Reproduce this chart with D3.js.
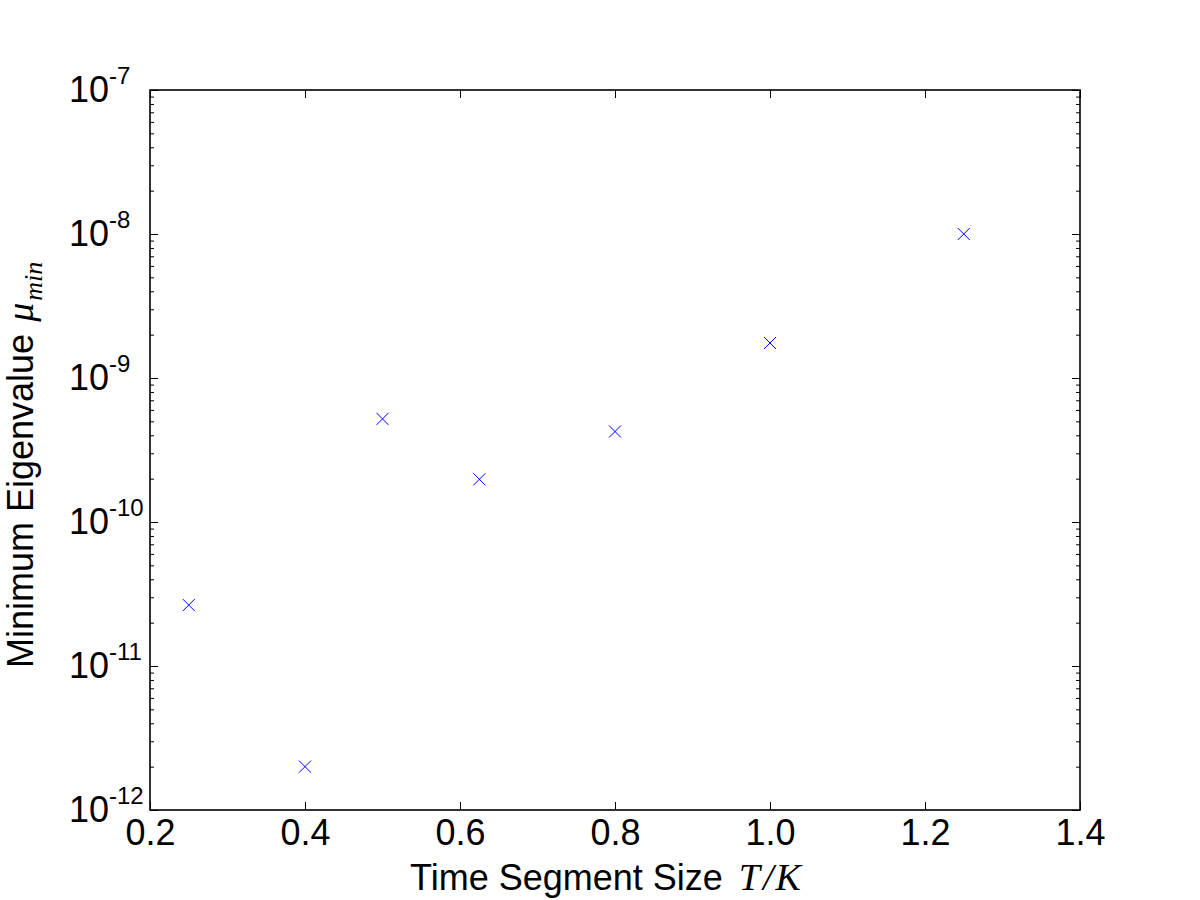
<!DOCTYPE html>
<html>
<head>
<meta charset="utf-8">
<script src="https://cdn.jsdelivr.net/npm/d3@7"></script>
<style>
  body { margin: 0; background: #fff; }
  svg { font-family: "Liberation Sans", Arial, sans-serif; }
</style>
</head>
<body>
<div id="chart"></div>
<script>
// data
var segmentSizes = [0.25, 0.4, 0.5, 0.625, 0.8, 1.0, 1.25]
var minEigenvalues = [2.65e-11, 2.0e-12, 5.2e-10, 1.98e-10, 4.25e-10, 1.75e-9, 1.0e-8]
var xTicks = [0.2, 0.4, 0.6, 0.8, 1.0, 1.2, 1.4]
var yExponents = [-12, -11, -10, -9, -8, -7]

var margin = {top: 90, right: 120, bottom: 90, left: 150}
var width = 1200 - margin.left - margin.right
var height = 900 - margin.top - margin.bottom

var svg = d3.select('#chart')
    .append('svg')
    .attr('width', 1200)
    .attr('height', 900)

var g = svg.append('g')
    .attr('transform', `translate(${margin.left}, ${margin.top})`)

var x = d3.scaleLinear().domain([0.2, 1.4]).range([0, width])
var y = d3.scaleLog().domain([1e-12, 1e-7]).range([height, 0])

// minor ticks for the log axis
var minorTicks = []
yExponents.slice(0, -1).forEach(e => {
    for (let m = 2; m <= 9; m++) minorTicks.push(m * Math.pow(10, e))
})
var majorTicks = yExponents.map(e => Math.pow(10, e))

function styleTicks(sel) {
    sel.select('.domain').remove()
    sel.selectAll('line').attr('stroke', '#000').attr('stroke-width', 1)
}

// x ticks: bottom (inward) with labels, top (inward)
var xb = g.append('g')
    .attr('transform', `translate(0, ${height})`)
    .call(d3.axisBottom(x).tickValues(xTicks).tickFormat(d3.format('.1f')).tickSizeInner(-8))
styleTicks(xb)
xb.selectAll('text')
    .attr('font-size', 36)
    .attr('fill', '#000')
    .attr('y', 35)
    .attr('dy', null)

var xt = g.append('g')
    .call(d3.axisTop(x).tickValues(xTicks).tickSizeInner(-8).tickFormat(''))
styleTicks(xt)

// y ticks left and right
var yl = g.append('g')
    .call(d3.axisLeft(y).tickValues(majorTicks).tickSizeInner(-8).tickFormat(''))
styleTicks(yl)
yl.selectAll('.tick text').remove()
yl.selectAll('.tick').each(function(d) {
    var t = d3.select(this).append('text')
        .attr('fill', '#000')
        .attr('text-anchor', 'start')
    t.append('tspan')
        .attr('x', -81)
        .attr('y', 11)
        .attr('font-size', 36)
        .text('10')
    t.append('tspan')
        .attr('x', -41)
        .attr('y', -7)
        .attr('font-size', 24)
        .text(Math.round(Math.log10(d)))
})

var ylMinor = g.append('g')
    .call(d3.axisLeft(y).tickValues(minorTicks).tickSizeInner(-4).tickFormat(''))
styleTicks(ylMinor)

var yr = g.append('g')
    .attr('transform', `translate(${width}, 0)`)
    .call(d3.axisRight(y).tickValues(majorTicks).tickSizeInner(-8).tickFormat(''))
styleTicks(yr)
var yrMinor = g.append('g')
    .attr('transform', `translate(${width}, 0)`)
    .call(d3.axisRight(y).tickValues(minorTicks).tickSizeInner(-4).tickFormat(''))
styleTicks(yrMinor)

// frame
g.append('rect')
    .attr('width', width)
    .attr('height', height)
    .attr('fill', 'none')
    .attr('stroke', '#000')
    .attr('stroke-width', 1.6)

// markers
var pts = segmentSizes.map((s, i) => ({x: s, y: minEigenvalues[i]}))
g.selectAll('path.mark')
    .data(pts)
    .enter().append('path')
    .attr('class', 'mark')
    .attr('transform', d => `translate(${x(d.x)}, ${y(d.y)})`)
    .attr('d', 'M-6,-6L6,6M-6,6L6,-6')
    .attr('stroke', '#0000ff')
    .attr('stroke-width', 1)
    .attr('fill', 'none')

// axis labels
var mathFont = '"Liberation Serif", "DejaVu Serif", serif'
var xl = svg.append('text')
    .attr('x', 410)
    .attr('y', 890)
    .attr('font-size', 36)
    .attr('fill', '#000')
xl.append('tspan').text('Time Segment Size ')
xl.append('tspan').attr('font-family', mathFont).attr('font-style', 'italic')
    .attr('font-size', 38).attr('dx', 6).text('T')
xl.append('tspan').attr('font-family', mathFont).attr('font-style', 'italic')
    .attr('font-size', 38).attr('dx', 3).text('/')
xl.append('tspan').attr('font-family', mathFont).attr('font-style', 'italic')
    .attr('font-size', 38).attr('dx', 2).text('K')

var ylab = svg.append('text')
    .attr('transform', 'translate(33, 668) rotate(-90)')
    .attr('font-size', 36)
    .attr('fill', '#000')
ylab.append('tspan').text('Minimum Eigenvalue ')
ylab.append('tspan').attr('font-family', mathFont).attr('font-style', 'italic')
    .attr('font-size', 38).attr('dx', 2).text('μ')
ylab.append('tspan').attr('font-family', mathFont).attr('font-style', 'italic')
    .attr('font-size', 26).attr('dy', 9).attr('dx', 2).text('min')
</script>
</body>
</html>
